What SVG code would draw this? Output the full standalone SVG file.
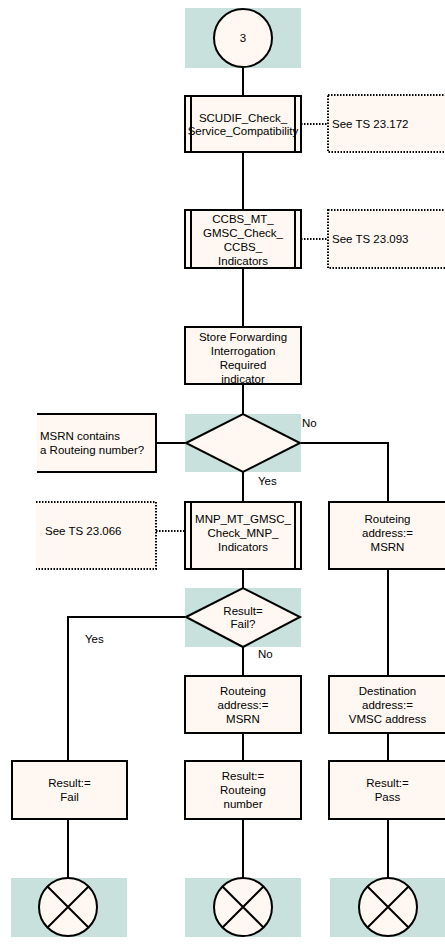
<svg xmlns="http://www.w3.org/2000/svg" width="445" height="945" viewBox="0 0 445 945">
<style>
.bg{fill:#C9E1DC;stroke:none}
.box{fill:#FFF8F2;stroke:#000;stroke-width:2}
.note{fill:#FFF8F2;stroke:#000;stroke-width:2;stroke-dasharray:1.5 1.5}
.cm{fill:#FFF8F2;stroke:none}
.ln{fill:none;stroke:#000;stroke-width:2}
.dl{fill:none;stroke:#000;stroke-width:2;stroke-dasharray:1.5 1.5}
text{font-family:"Liberation Sans",Arial,sans-serif;font-size:11.5px;fill:#000}
.c{text-anchor:middle}
</style>
<rect width="445" height="945" fill="#fff"/>
<g id="connectors">
<path class="ln" d="M243 67V96M243 152V210M243 268V327M243 384V414M243 472V502M243 569V588M243 647V676M243 733V761M243 819V878"/>
<path class="ln" d="M300 443H388V502M388 569V676M388 733V761M388 819V878"/>
<path class="ln" d="M186 617H68V761M68 819V878"/>
<path class="ln" d="M156 443H186"/>
<path class="dl" d="M301 124H328M301 239H328M156 531H185"/>
</g>
<g id="start">
<rect class="bg" x="185" y="8" width="116" height="60"/>
<circle class="box" cx="243" cy="38" r="29"/>
<text class="c" x="243" y="42">3</text>
</g>
<g id="scudif">
<rect class="box" x="185" y="96" width="116" height="56"/>
<text class="c" x="243" y="122">SCUDIF_Check_</text>
<text class="c" x="243" y="135">Service_Compatibility</text>
<path class="ln" d="M191 96V152M295 96V152"/>
</g>
<g id="note1">
<rect class="note" x="328" y="95" width="130" height="57"/>
<text x="332" y="128">See TS 23.172</text>
</g>
<g id="ccbs">
<rect class="box" x="185" y="210" width="116" height="58"/>
<text class="c" x="243" y="223">CCBS_MT_</text>
<text class="c" x="243" y="237">GMSC_Check_</text>
<text class="c" x="243" y="251">CCBS_</text>
<text class="c" x="243" y="265">Indicators</text>
<path class="ln" d="M191 210V268M295 210V268"/>
</g>
<g id="note2">
<rect class="note" x="328" y="210" width="130" height="58"/>
<text x="332" y="243">See TS 23.093</text>
</g>
<g id="store">
<rect class="box" x="185" y="327" width="116" height="57"/>
<text class="c" x="243" y="341">Store Forwarding</text>
<text class="c" x="243" y="355">Interrogation</text>
<text class="c" x="243" y="369">Required</text>
<text class="c" x="243" y="383">indicator</text>
</g>
<g id="dec1">
<rect class="bg" x="185" y="414" width="116" height="58"/>
<polygon class="box" points="186,443 243,414 300,443 243,472"/>
<text x="302" y="427">No</text>
<text x="258" y="485">Yes</text>
</g>
<g id="comment1">
<rect class="cm" x="37" y="414" width="119" height="58"/>
<path class="ln" d="M37 414H156V472H37"/>
<text x="40" y="440">MSRN contains</text>
<text x="40" y="454">a Routeing number?</text>
</g>
<g id="mnp">
<rect class="box" x="185" y="502" width="116" height="67"/>
<text class="c" x="243" y="523">MNP_MT_GMSC_</text>
<text class="c" x="243" y="537">Check_MNP_</text>
<text class="c" x="243" y="551">Indicators</text>
<path class="ln" d="M191 502V569M295 502V569"/>
</g>
<g id="note3">
<rect class="cm" x="36" y="502" width="120" height="67"/>
<path class="dl" d="M36 502H156V569H36"/>
<text x="45" y="535">See TS 23.066</text>
</g>
<g id="route1">
<rect class="box" x="329" y="502" width="117" height="67"/>
<text class="c" x="387.5" y="523">Routeing</text>
<text class="c" x="387.5" y="537">address:=</text>
<text class="c" x="387.5" y="551">MSRN</text>
</g>
<g id="dec2">
<rect class="bg" x="185" y="588" width="116" height="59"/>
<polygon class="box" points="186,617 243,588 300,617 243,647"/>
<text class="c" x="243" y="615">Result=</text>
<text class="c" x="243" y="628">Fail?</text>
<text x="85" y="643">Yes</text>
<text x="258" y="658">No</text>
</g>
<g id="route2">
<rect class="box" x="185" y="676" width="116" height="57"/>
<text class="c" x="243" y="695">Routeing</text>
<text class="c" x="243" y="709">address:=</text>
<text class="c" x="243" y="723">MSRN</text>
</g>
<g id="dest">
<rect class="box" x="329" y="676" width="117" height="57"/>
<text class="c" x="387.5" y="695">Destination</text>
<text class="c" x="387.5" y="709">address:=</text>
<text class="c" x="387.5" y="723">VMSC address</text>
</g>
<g id="resFail">
<rect class="box" x="12" y="761" width="115" height="58"/>
<text class="c" x="69.5" y="787">Result:=</text>
<text class="c" x="69.5" y="801">Fail</text>
</g>
<g id="resRoute">
<rect class="box" x="185" y="761" width="116" height="58"/>
<text class="c" x="243" y="780">Result:=</text>
<text class="c" x="243" y="794">Routeing</text>
<text class="c" x="243" y="808">number</text>
</g>
<g id="resPass">
<rect class="box" x="329" y="761" width="117" height="58"/>
<text class="c" x="387.5" y="787">Result:=</text>
<text class="c" x="387.5" y="801">Pass</text>
</g>
<g id="end1">
<rect class="bg" x="11" y="878" width="116" height="59"/>
<circle class="box" cx="68" cy="907" r="29"/>
<path class="ln" d="M47.5 886.5L88.5 927.5M88.5 886.5L47.5 927.5"/>
</g>
<g id="end2">
<rect class="bg" x="185" y="878" width="116" height="59"/>
<circle class="box" cx="243" cy="907" r="29"/>
<path class="ln" d="M222.5 886.5L263.5 927.5M263.5 886.5L222.5 927.5"/>
</g>
<g id="end3">
<rect class="bg" x="330" y="878" width="116" height="59"/>
<circle class="box" cx="388" cy="907" r="29"/>
<path class="ln" d="M367.5 886.5L408.5 927.5M408.5 886.5L367.5 927.5"/>
</g>
</svg>
